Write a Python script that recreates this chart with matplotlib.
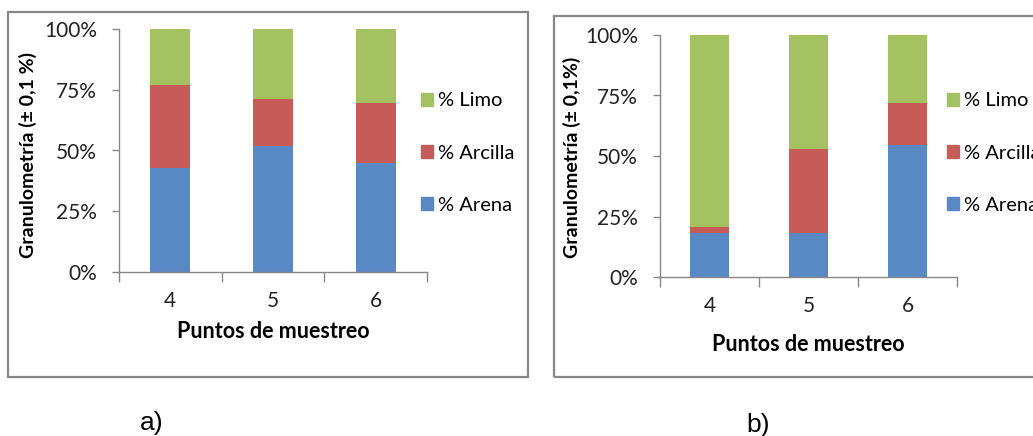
import numpy as np
import matplotlib
matplotlib.use('Agg')
import matplotlib.pyplot as plt
from matplotlib.patches import Rectangle, Patch
from matplotlib.ticker import PercentFormatter

# data (fractions of the total)
puntos = ['4', '5', '6']
series = ['% Arena', '% Arcilla', '% Limo']
arena_a = [0.43, 0.52, 0.45]
arcilla_a = [0.34, 0.19, 0.245]
limo_a = [0.23, 0.29, 0.305]
arena_b = [0.18, 0.18, 0.547]
arcilla_b = [0.028, 0.35, 0.17]
limo_b = [0.792, 0.47, 0.283]
ylabels = ['Granulometría (± 0,1 %)', 'Granulometría (± 0,1%)']
panel_tags = ['a)', 'b)']

colors = ['#5889C4', '#C75B57', '#A5C263']
gray = '#878787'
font = 'Lato'

W, H = 1033, 436
fig = plt.figure(figsize=(W / 100, H / 100), dpi=100)


def fx(px):
    return px / W


def fy(py):
    return 1 - py / H


def draw_panel(box, frame, vals, ylabel, ylab_xy, xlab_y, leg_x, tag, tag_xy):
    # outer chart frame like the excel chart area
    fig.patches.append(Rectangle((fx(frame[0]), fy(frame[3])), fx(frame[2] - frame[0]), (frame[3] - frame[1]) / H,
                                 transform=fig.transFigure, fill=False, edgecolor=gray, linewidth=1.6))
    ax = fig.add_axes([fx(box[0]), fy(box[3]), fx(box[2] - box[0]), (box[3] - box[1]) / H])
    x = np.arange(len(puntos))
    bottom = np.zeros(len(puntos))
    for v, c, name in zip(vals, colors, series):
        ax.bar(x, v, 0.39, bottom=bottom, color=c, label=name)
        bottom += np.array(v)
    ax.set_xlim(-0.5, 2.5)
    ax.set_ylim(0, 1)
    ax.set_yticks([0, 0.25, 0.5, 0.75, 1.0])
    ax.yaxis.set_major_formatter(PercentFormatter(1.0, decimals=0))
    ax.set_xticks([-0.5, 0.5, 1.5, 2.5])
    ax.set_xticklabels([])
    ax.set_xticks(x, minor=True)
    ax.set_xticklabels(puntos, minor=True, fontsize=15, fontname=font, color='#222222')
    ax.tick_params(axis='x', which='major', length=7, width=1, color=gray, direction='out')
    ax.tick_params(axis='x', which='minor', length=0, pad=14)
    ax.tick_params(axis='y', length=5, width=1, color=gray, pad=11, labelsize=15)
    for lab in ax.get_yticklabels():
        lab.set_fontname(font)
        lab.set_color('#222222')
    for s in ['top', 'right']:
        ax.spines[s].set_visible(False)
    for s in ['left', 'bottom']:
        ax.spines[s].set_color(gray)
        ax.spines[s].set_linewidth(1)
    fig.text(fx(ylab_xy[0]), fy(ylab_xy[1]), ylabel, rotation=90, ha='center', va='center',
             fontsize=14, fontweight='bold', fontname=font)
    fig.text(fx((box[0] + box[2]) / 2), fy(xlab_y), 'Puntos de muestreo', ha='center', va='center',
             fontsize=15.5, fontweight='bold', fontname=font)
    handles = [Patch(color=c, label=n) for c, n in zip(colors, series)][::-1]
    fig.legend(handles=handles, loc='center left', bbox_to_anchor=(fx(leg_x), fy(153)),
               frameon=False, prop={'family': font, 'size': 14.5}, handlelength=0.6, handleheight=0.6,
               handletextpad=0.25, labelspacing=1.75, borderpad=0, borderaxespad=0)
    fig.text(fx(tag_xy[0]), fy(tag_xy[1]), tag, ha='center', va='center', fontsize=19,
             fontname='Liberation Sans')
    return ax


draw_panel((119, 29, 427, 272), (8, 12, 528, 377), [arena_a, arcilla_a, limo_a], ylabels[0],
           (28, 155), 331, 421, panel_tags[0], (152, 423))
draw_panel((660, 35, 957, 277), (554, 16, 1045, 377), [arena_b, arcilla_b, limo_b], ylabels[1],
           (572, 157), 344, 947, panel_tags[1], (758, 425))

fig.savefig('out.png', dpi=100)
